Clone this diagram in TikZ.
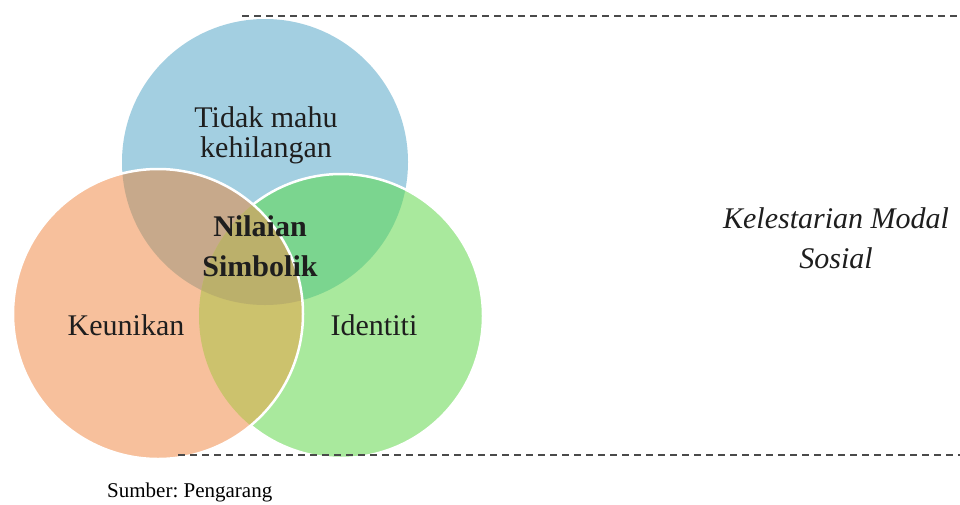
\documentclass[tikz,border=0pt]{standalone}
\usepackage{fontspec}
\setmainfont{Liberation Serif}
\frenchspacing
\definecolor{cBlue}{HTML}{A3CFE1}
\definecolor{cOrange}{HTML}{F7C09C}
\definecolor{cGreen}{HTML}{A9E99D}
\definecolor{cBG}{HTML}{7BD58F}
\definecolor{cBO}{HTML}{C7A98B}
\definecolor{cOG}{HTML}{CCC26D}
\definecolor{cAll}{HTML}{BBB06B}
\definecolor{cText}{HTML}{1E1E1E}
\definecolor{cDash}{HTML}{4A4A4A}
\begin{document}
\begin{tikzpicture}[x=1pt,y=-1pt,
  outline/.style={draw=white,line width=2.5pt},
  dashline/.style={draw=cDash,line width=2pt,dash pattern=on 7pt off 5pt},
  label/.style={text=cText,inner sep=0pt,align=center,font=\fontsize{30}{30}\selectfont},
  label2/.style={text=cText,inner sep=0pt,align=center,font=\fontsize{30}{40}\selectfont}]
\useasboundingbox (0,0) rectangle (960,504);
\fill[white] (0,0) rectangle (960,504);
\coordinate (cB) at (265,162);
\coordinate (cO) at (158,314);
\coordinate (cG) at (341,316);
\def\rB{143}\def\rO{145}\def\rG{142}
% blue
\fill[cBlue] (cB) circle (\rB);
% green
\fill[cGreen] (cG) circle (\rG);
\begin{scope}
  \clip (cG) circle (\rG);
  \fill[cBG] (cB) circle (\rB);
\end{scope}
\path[outline] (cG) circle (\rG);
% orange
\fill[cOrange] (cO) circle (\rO);
\begin{scope}
  \clip (cO) circle (\rO);
  \fill[cBO] (cB) circle (\rB);
  \fill[cOG] (cG) circle (\rG);
  \clip (cB) circle (\rB);
  \fill[cAll] (cG) circle (\rG);
\end{scope}
\path[outline] (cO) circle (\rO);
% dashed lines
\coordinate (t1) at (242,16);
\coordinate (t2) at (960,16);
\coordinate (b1) at (178,455);
\coordinate (b2) at (960,455);
\draw[dashline] (t1) -- (t2);
\draw[dashline] (b1) -- (b2);
% labels (base anchor = baseline of last line)
\node[label,anchor=base] (tidak) at (266,157) {Tidak mahu\\kehilangan};
\node[label2,anchor=base,font=\fontsize{30}{40}\selectfont\bfseries] (nilai) at (260,276) {Nilaian\\Simbolik};
\node[label,anchor=base] (keun) at (126,335) {Keunikan};
\node[label,anchor=base] (iden) at (374,335) {Identiti};
\node[label2,anchor=base,font=\fontsize{30}{40}\selectfont\itshape] (kel) at (836,268) {Kelestarian Modal\\Sosial};
\node[text=black,inner sep=0pt,anchor=base west,font=\fontsize{21}{21}\selectfont] (sumber) at (107,497) {Sumber: Pengarang};
\end{tikzpicture}
\end{document}
